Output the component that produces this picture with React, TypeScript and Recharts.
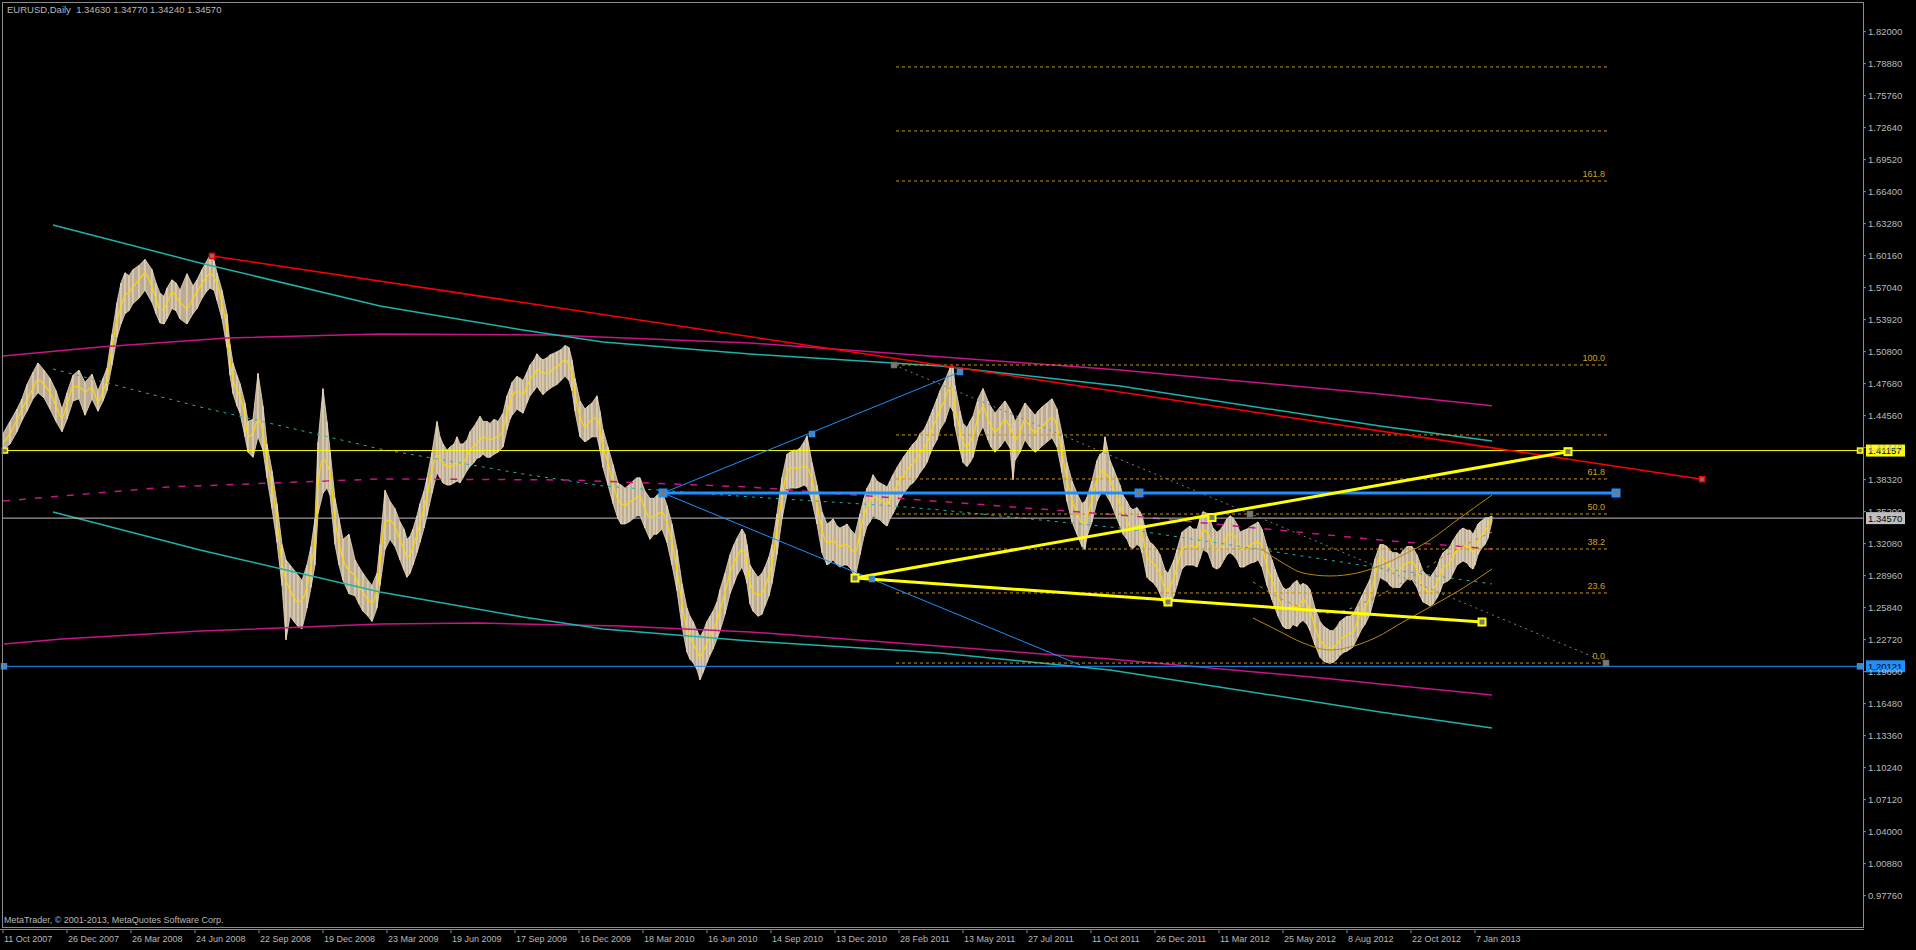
import React from 'react';
import { ComposedChart, XAxis, YAxis, Line, Bar, Area, ReferenceLine, ReferenceDot } from 'recharts';

const FONT = '"Liberation Sans", Arial, sans-serif';
const TEXT = '#b8b8b8';
const AXIS = '#8c8c8c';
const FIB = '#c8961a';
const FIB_TEXT = '#d4a017';

const Y_MIN = 0.94704;
const Y_MAX = 1.84893;

// ---- price bars: [barPos, low, high, smoothed] ----
const bars2007_08: number[][] = [
  [3,1.412,1.428,1.419],[10,1.418,1.440,1.428],[17,1.430,1.452,1.4416],[22,1.441,1.462,1.452],
  [27,1.450,1.476,1.461],[33,1.462,1.488,1.472],[38,1.468,1.497,1.4807],[44,1.463,1.490,1.476],
  [50,1.452,1.482,1.468],[56,1.440,1.470,1.455],[62,1.430,1.452,1.4434],[67,1.442,1.468,1.456],
  [73,1.460,1.485,1.4737],[79,1.462,1.490,1.474],[85,1.446,1.478,1.469],[92,1.462,1.486,1.473],
  [98,1.450,1.470,1.459],[103,1.460,1.482,1.470],[107,1.470,1.492,1.4807],[112,1.495,1.525,1.5125],
  [117,1.522,1.556,1.5387],[121,1.535,1.575,1.552],[125,1.545,1.585,1.563],[129,1.548,1.582,1.566],
  [133,1.555,1.588,1.571],[139,1.560,1.592,1.578],[145,1.568,1.598,1.5846],[152,1.556,1.588,1.571],
  [156,1.545,1.575,1.560],[160,1.536,1.565,1.549],[164,1.535,1.562,1.550],[167,1.540,1.570,1.555],
  [172,1.550,1.578,1.566],[176,1.548,1.575,1.562],[180,1.540,1.568,1.556],[187,1.535,1.584,1.5505],
  [193,1.545,1.572,1.560],[197,1.550,1.578,1.566],[202,1.560,1.588,1.575],[206,1.566,1.595,1.580],
  [210,1.570,1.602,1.5846],[214,1.568,1.597,1.580],[217,1.558,1.585,1.575],[222,1.540,1.568,1.555],
  [227,1.512,1.545,1.529],[230,1.485,1.515,1.500],[233,1.467,1.497,1.481],[237,1.455,1.485,1.470],
  [240,1.448,1.477,1.464],[245,1.425,1.458,1.4446],[248,1.410,1.440,1.4251],[253,1.405,1.442,1.429],
  [258,1.425,1.487,1.4417],[263,1.412,1.455,1.429],[267,1.385,1.418,1.4027],[272,1.355,1.392,1.3763],
  [277,1.322,1.360,1.344],[282,1.280,1.320,1.302],[286,1.227,1.305,1.285],[290,1.250,1.300,1.2757],
  [294,1.245,1.295,1.268],[298,1.240,1.290,1.264],[302,1.238,1.285,1.266],[307,1.258,1.300,1.2786],
  [311,1.278,1.318,1.300],[315,1.300,1.345,1.3244],[318,1.350,1.420,1.3763],[323,1.370,1.472,1.4027],
  [327,1.375,1.440,1.398],[330,1.368,1.412,1.390],[335,1.320,1.365,1.344],[339,1.300,1.345,1.322],
  [343,1.285,1.325,1.305],[349,1.272,1.330,1.295],[355,1.270,1.305,1.2886],[359,1.262,1.298,1.280],
  [363,1.255,1.292,1.273],[368,1.250,1.285,1.266],[372,1.245,1.280,1.263],
];
const bars2009_10: number[][] = [
  [377,1.258,1.292,1.2757],[380,1.280,1.320,1.302],[385,1.315,1.373,1.341],[390,1.325,1.362,1.344],
  [395,1.318,1.355,1.337],[400,1.305,1.342,1.3244],[404,1.295,1.335,1.315],[407,1.288,1.325,1.308],
  [410,1.292,1.328,1.310],[413,1.300,1.335,1.3176],[417,1.312,1.348,1.330],[420,1.322,1.360,1.341],
  [424,1.336,1.372,1.355],[427,1.348,1.385,1.3666],[432,1.370,1.410,1.3925],[437,1.390,1.440,1.4073],
  [440,1.385,1.425,1.404],[443,1.380,1.418,1.3995],[447,1.378,1.412,1.396],[450,1.378,1.415,1.3956],
  [454,1.380,1.418,1.398],[457,1.382,1.425,1.3995],[460,1.380,1.418,1.398],[463,1.385,1.418,1.3995],
  [467,1.392,1.422,1.406],[470,1.396,1.430,1.412],[474,1.400,1.435,1.416],[477,1.404,1.440,1.419],
  [480,1.405,1.445,1.422],[483,1.408,1.440,1.4251],[487,1.405,1.440,1.423],[490,1.405,1.438,1.422],
  [494,1.408,1.442,1.424],[498,1.410,1.440,1.4251],[503,1.415,1.448,1.432],[507,1.432,1.465,1.4485],
  [510,1.442,1.472,1.458],[512,1.446,1.478,1.464],[517,1.452,1.484,1.469],[520,1.450,1.482,1.468],
  [523,1.448,1.480,1.466],[527,1.458,1.488,1.474],[530,1.465,1.495,1.4807],[534,1.470,1.500,1.486],
  [537,1.474,1.506,1.4904],[540,1.470,1.502,1.489],[543,1.466,1.500,1.487],[547,1.470,1.502,1.487],
  [550,1.472,1.505,1.488],[553,1.474,1.506,1.491],[557,1.476,1.508,1.4932],[561,1.480,1.510,1.497],
  [565,1.484,1.514,1.500],[569,1.480,1.512,1.495],[572,1.470,1.500,1.487],[575,1.450,1.482,1.468],
  [580,1.425,1.460,1.4446],[585,1.420,1.452,1.435],[588,1.422,1.455,1.438],[592,1.425,1.458,1.4417],
  [597,1.425,1.465,1.4436],[600,1.412,1.450,1.432],[603,1.395,1.432,1.4154],[608,1.378,1.415,1.3995],
  [613,1.360,1.398,1.380],[618,1.345,1.380,1.3634],[621,1.340,1.378,1.360],[625,1.340,1.375,1.3585],
  [629,1.342,1.378,1.361],[633,1.345,1.382,1.3634],[637,1.348,1.385,1.366],[640,1.348,1.385,1.3666],
  [645,1.336,1.372,1.354],[650,1.325,1.365,1.346],[654,1.330,1.365,1.348],[657,1.330,1.368,1.349],
  [662,1.335,1.372,1.352],[667,1.322,1.358,1.341],[672,1.300,1.340,1.3215],[677,1.275,1.315,1.2952],
  [682,1.240,1.282,1.263],[687,1.215,1.258,1.2366],[690,1.208,1.250,1.230],[693,1.205,1.245,1.224],
  [697,1.198,1.236,1.216],[700,1.188,1.230,1.2103],[703,1.195,1.235,1.215],[707,1.205,1.245,1.224],
  [710,1.212,1.250,1.230],[713,1.218,1.255,1.2366],[717,1.228,1.264,1.246],[720,1.236,1.276,1.256],
  [725,1.252,1.292,1.273],[730,1.272,1.310,1.2922],[734,1.282,1.320,1.302],[737,1.290,1.326,1.308],
  [742,1.298,1.335,1.315],[745,1.290,1.330,1.312],[747,1.282,1.320,1.302],[750,1.262,1.300,1.2825],
];
const bars2010_11: number[][] = [
  [753,1.255,1.295,1.2757],[758,1.250,1.288,1.2708],[762,1.252,1.292,1.272],[765,1.260,1.298,1.2786],
  [769,1.270,1.308,1.290],[772,1.282,1.320,1.302],[777,1.310,1.350,1.334],[782,1.345,1.385,1.3666],
  [787,1.370,1.408,1.390],[790,1.375,1.410,1.394],[793,1.375,1.412,1.395],[797,1.375,1.412,1.394],
  [800,1.376,1.414,1.395],[804,1.378,1.420,1.396],[807,1.376,1.426,1.395],[812,1.362,1.400,1.3832],
  [817,1.340,1.378,1.360],[822,1.312,1.352,1.334],[827,1.300,1.340,1.322],[830,1.302,1.342,1.322],
  [833,1.305,1.345,1.324],[837,1.300,1.338,1.320],[840,1.298,1.336,1.3176],[844,1.300,1.338,1.320],
  [847,1.300,1.340,1.3195],[851,1.296,1.334,1.316],[855,1.287,1.330,1.3117],[860,1.310,1.350,1.331],
  [864,1.328,1.365,1.348],[867,1.338,1.375,1.3566],[870,1.342,1.380,1.362],[873,1.348,1.388,1.3666],
  [877,1.345,1.382,1.365],[880,1.344,1.380,1.3634],[884,1.340,1.378,1.361],[887,1.338,1.376,1.3585],
  [890,1.345,1.382,1.364],[893,1.350,1.388,1.370],[897,1.358,1.395,1.377],[900,1.364,1.400,1.3832],
  [904,1.370,1.406,1.388],[907,1.374,1.410,1.3925],[910,1.378,1.414,1.396],[913,1.380,1.418,1.3995],
  [917,1.385,1.422,1.404],[920,1.390,1.428,1.409],[924,1.395,1.432,1.414],[927,1.400,1.438,1.419],
  [930,1.408,1.445,1.427],[933,1.415,1.452,1.435],[937,1.422,1.462,1.443],[940,1.432,1.470,1.4514],
  [945,1.440,1.480,1.461],[950,1.455,1.492,1.4737],[953,1.450,1.4939,1.468],[955,1.435,1.475,1.4544],
  [960,1.412,1.450,1.432],[963,1.400,1.438,1.420],[967,1.396,1.434,1.4154],[970,1.400,1.440,1.420],
  [973,1.405,1.445,1.4251],[978,1.425,1.462,1.4446],[983,1.435,1.472,1.4544],[988,1.422,1.460,1.4417],
  [991,1.415,1.454,1.436],[995,1.410,1.448,1.430],[1000,1.415,1.454,1.435],[1005,1.422,1.460,1.4417],
  [1010,1.414,1.452,1.434],[1013,1.383,1.446,1.428],[1015,1.402,1.440,1.422],[1020,1.410,1.448,1.429],
  [1025,1.422,1.458,1.4417],[1030,1.415,1.452,1.435],[1035,1.410,1.446,1.429],[1038,1.412,1.450,1.432],
  [1042,1.416,1.454,1.435],[1047,1.420,1.458,1.440],[1052,1.424,1.462,1.4436],[1057,1.415,1.452,1.435],
  [1062,1.390,1.428,1.409],[1067,1.362,1.400,1.3832],[1072,1.342,1.382,1.3634],[1077,1.330,1.370,1.3507],
  [1082,1.318,1.360,1.341],[1085,1.315,1.362,1.342],[1087,1.328,1.366,1.347],[1092,1.342,1.382,1.3634],
  [1097,1.362,1.402,1.3832],[1100,1.368,1.408,1.389],[1103,1.372,1.410,1.3925],[1105,1.370,1.425,1.390],
  [1110,1.362,1.402,1.3832],[1113,1.355,1.395,1.376],[1117,1.345,1.385,1.3666],
];
const bars2012_13: number[][] = [
  [1120,1.338,1.378,1.358],[1123,1.330,1.368,1.3507],[1127,1.325,1.362,1.344],[1130,1.318,1.356,1.337],
  [1133,1.316,1.354,1.336],[1137,1.320,1.356,1.339],[1140,1.318,1.352,1.336],[1142,1.312,1.348,1.331],
  [1147,1.288,1.328,1.308],[1150,1.285,1.322,1.304],[1153,1.283,1.320,1.302],[1157,1.278,1.315,1.297],
  [1160,1.272,1.310,1.292],[1165,1.260,1.295,1.277],[1168,1.262,1.292,1.275],[1170,1.262,1.296,1.2786],
  [1174,1.270,1.305,1.288],[1177,1.280,1.315,1.298],[1182,1.296,1.332,1.315],[1186,1.300,1.335,1.318],
  [1190,1.300,1.338,1.3195],[1193,1.300,1.335,1.318],[1197,1.298,1.335,1.3176],[1200,1.306,1.345,1.325],
  [1203,1.315,1.352,1.334],[1208,1.312,1.350,1.331],[1213,1.298,1.336,1.3176],[1217,1.296,1.332,1.315],
  [1220,1.298,1.334,1.315],[1224,1.305,1.340,1.322],[1227,1.310,1.345,1.328],[1230,1.312,1.348,1.330],
  [1233,1.310,1.346,1.330],[1237,1.305,1.340,1.323],[1240,1.298,1.332,1.315],[1244,1.298,1.334,1.316],
  [1247,1.300,1.335,1.317],[1251,1.302,1.338,1.320],[1255,1.303,1.340,1.3215],[1258,1.305,1.342,1.322],
  [1262,1.298,1.335,1.3176],[1267,1.280,1.318,1.298],[1272,1.266,1.305,1.2854],[1275,1.258,1.296,1.277],
  [1278,1.250,1.288,1.269],[1283,1.240,1.278,1.259],[1286,1.238,1.276,1.258],[1290,1.238,1.278,1.258],
  [1293,1.242,1.282,1.260],[1297,1.240,1.285,1.259],[1300,1.244,1.280,1.262],[1303,1.246,1.282,1.2659],
  [1307,1.242,1.280,1.262],[1310,1.236,1.276,1.256],[1315,1.222,1.258,1.2396],[1320,1.210,1.245,1.227],
  [1324,1.206,1.240,1.222],[1327,1.205,1.238,1.220],[1330,1.2042,1.236,1.219],[1333,1.205,1.236,1.219],
  [1337,1.208,1.240,1.223],[1340,1.212,1.245,1.227],[1344,1.215,1.248,1.230],[1347,1.216,1.250,1.232],
  [1350,1.218,1.250,1.233],[1353,1.220,1.252,1.234],[1358,1.230,1.262,1.2467],[1362,1.238,1.270,1.254],
  [1365,1.242,1.276,1.259],[1370,1.252,1.286,1.269],[1375,1.270,1.306,1.2886],[1380,1.288,1.320,1.308],
  [1383,1.286,1.320,1.306],[1387,1.284,1.318,1.302],[1390,1.280,1.314,1.298],[1393,1.278,1.312,1.2952],
  [1397,1.278,1.312,1.295],[1400,1.278,1.310,1.2952],[1403,1.282,1.314,1.299],[1407,1.286,1.318,1.302],
  [1412,1.286,1.318,1.303],[1417,1.278,1.310,1.2952],[1420,1.270,1.302,1.286],[1423,1.264,1.294,1.2786],
  [1427,1.262,1.290,1.275],[1430,1.260,1.288,1.273],[1433,1.262,1.292,1.276],[1437,1.268,1.298,1.2825],
  [1440,1.274,1.306,1.290],[1443,1.282,1.312,1.298],[1447,1.284,1.315,1.300],[1450,1.286,1.318,1.302],
  [1453,1.292,1.324,1.308],[1457,1.300,1.330,1.315],[1460,1.302,1.334,1.318],[1463,1.304,1.336,1.3195],
  [1467,1.302,1.334,1.318],[1470,1.298,1.334,1.317],[1473,1.296,1.330,1.312],[1475,1.300,1.334,1.3176],
  [1478,1.310,1.340,1.324],[1480,1.314,1.342,1.328],[1483,1.318,1.344,1.331],[1485,1.320,1.346,1.333],
  [1488,1.326,1.346,1.338],[1492,1.3424,1.3477,1.3457],
];

// ---- indicator curves: [barPos, price] ----
const tealUpper = [[53,1.6315],[200,1.5945],[380,1.5525],[523,1.5291],[603,1.5174],[750,1.5057],[893,1.4970],[940,1.4940],[1120,1.4745],[1380,1.4355],[1492,1.4209]];
const tealMid = [[53,1.4911],[200,1.4541],[380,1.4131],[523,1.3888],[603,1.3770],[750,1.3664],[893,1.3576],[940,1.3537],[1120,1.3361],[1380,1.2971],[1492,1.2815]];
const tealLower = [[53,1.3517],[200,1.3147],[380,1.2737],[523,1.2493],[603,1.2376],[750,1.2259],[893,1.2171],[940,1.2142],[1110,1.1977],[1380,1.1567],[1492,1.1411]];
const magentaUpper = [[3,1.5038],[100,1.5126],[227,1.5214],[380,1.5253],[550,1.5243],[750,1.5165],[1120,1.4902],[1380,1.4668],[1492,1.4553]];
const magentaMid = [[3,1.3624],[167,1.3760],[380,1.3839],[570,1.3829],[750,1.3760],[1120,1.3487],[1153,1.3458],[1380,1.3244],[1492,1.3156]];
const magentaLower = [[4,1.2230],[62,1.2278],[200,1.2356],[380,1.2424],[480,1.2434],[620,1.2405],[750,1.2347],[1110,1.2084],[1332,1.1889],[1380,1.1840],[1492,1.1733]];
const arcUpper = [[1263,1.3146],[1283,1.3019],[1303,1.2922],[1330,1.2893],[1357,1.2922],[1377,1.2980],[1403,1.3097],[1430,1.3243],[1457,1.3438],[1492,1.3682]];
const arcMid = [[1253,1.2834],[1290,1.2629],[1330,1.2532],[1370,1.2659],[1410,1.2873],[1450,1.3117],[1492,1.3321]];
const arcLower = [[1253,1.2483],[1277,1.2366],[1303,1.2240],[1330,1.2171],[1357,1.2220],[1377,1.2298],[1403,1.2444],[1430,1.2590],[1460,1.2756],[1492,1.2961]];

// ---- drawn trend lines: [barPos, price] endpoints ----
const redTrend = [[212,1.6013],[1702,1.3836]];
const blueUp = [[663,1.3702],[960,1.4882]];
const blueDown = [[663,1.3702],[1080,1.2026]];
const blueThick = [[663,1.3702],[1616,1.3702]];
const yellowRise = [[855,1.2873],[1568,1.4105]];
const yellowFall = [[855,1.2873],[1482,1.2444]];
const grayDiag = [[894,1.4950],[1608,1.2044]];

// ---- fibonacci ----
const fibStart = 896;
const fibEnd = 1607;
const fibLevels = [1.2044, 1.2727, 1.3156, 1.3497, 1.3839, 1.4268, 1.4950, 1.6744, 1.7232, 1.7856];
const fibLabels = ['0.0', '23.6', '38.2', '50.0', '61.8', '', '100.0', '161.8', '', ''];

// ---- horizontal levels ----
const levelYellow = 1.41157;
const levelBid = 1.3457;
const levelBlue = 1.20121;

// ---- axes ----
const yTicks = [1.82, 1.7888, 1.7576, 1.7264, 1.6952, 1.664, 1.6328, 1.6016, 1.5704, 1.5392, 1.508, 1.4768, 1.4456, 1.4144, 1.3832, 1.352, 1.3208, 1.2896, 1.2584, 1.2272, 1.196, 1.1648, 1.1336, 1.1024, 1.0712, 1.04, 1.0088, 0.9776];
const xTickPos = [3, 67, 131, 195, 259, 323, 387, 451, 515, 579, 643, 707, 771, 835, 899, 963, 1027, 1091, 1155, 1219, 1283, 1347, 1411, 1475];
const xTickLabels = ['11 Oct 2007', '26 Dec 2007', '26 Mar 2008', '24 Jun 2008', '22 Sep 2008', '19 Dec 2008', '23 Mar 2009', '19 Jun 2009', '17 Sep 2009', '16 Dec 2009', '18 Mar 2010', '16 Jun 2010', '14 Sep 2010', '13 Dec 2010', '28 Feb 2011', '13 May 2011', '27 Jul 2011', '11 Oct 2011', '26 Dec 2011', '11 Mar 2012', '25 May 2012', '8 Aug 2012', '22 Oct 2012', '7 Jan 2013'];

// ---- anchors [barPos, price, color, size] ----
const anchors: [number, number, string, number][] = [
  [212, 1.6013, '#ff0000', 5], [1702, 1.3836, '#ff0000', 5],
  [5, 1.41157, '#ffff00', 5], [1860, 1.41157, '#ffff00', 5],
  [4, 1.20121, '#1e90ff', 5], [1860, 1.20121, '#1e90ff', 5],
  [663, 1.3702, '#1e90ff', 7], [1139, 1.3702, '#1e90ff', 7], [1616, 1.3702, '#1e90ff', 7],
  [812, 1.4277, '#1e90ff', 5], [960, 1.4882, '#1e90ff', 5], [872, 1.2863, '#1e90ff', 5],
  [855, 1.2873, '#ffff00', 7], [1568, 1.4105, '#ffff00', 7], [1212, 1.3463, '#ffff00', 7],
  [1168, 1.2639, '#ffff00', 7], [1482, 1.2444, '#ffff00', 7],
  [894, 1.4950, '#707070', 5], [1250, 1.3497, '#707070', 5], [1606, 1.2044, '#707070', 5],
];

const priceRows = [...bars2007_08, ...bars2009_10, ...bars2010_11, ...bars2012_13].map((r) => ({
  x: r[0],
  range: [r[1], r[2]],
  ma: r[3],
}));
const pts = (arr: number[][]) => arr.map(([x, p]) => ({ x, p }));

const XTick = (props: any) => {
  const { x, y, index } = props;
  return (
    <g>
      <line x1={x} x2={x} y1={y + 2} y2={y + 6} stroke={AXIS} />
      <text x={x + 1} y={y + 15} fill={TEXT} fontSize={9} fontFamily={FONT} textAnchor="start">
        {xTickLabels[index] ?? ''}
      </text>
    </g>
  );
};

const YTick = (props: any) => {
  const { x, y, payload } = props;
  return (
    <g>
      <line x1={x} x2={x + 3} y1={y} y2={y} stroke={AXIS} />
      <text x={x + 5} y={y + 3.5} fill={TEXT} fontSize={9.5} fontFamily={FONT} textAnchor="start">
        {Number(payload.value).toFixed(5)}
      </text>
    </g>
  );
};

const priceBox = (text: string, bg: string) => (props: any) => {
  const vb = props.viewBox || {};
  const x = (vb.x ?? 0) + (vb.width ?? 0) + 3;
  const y = vb.y ?? 0;
  return (
    <g>
      <rect x={x} y={y - 6} width={39} height={12} fill={bg} />
      <text x={x + 2} y={y + 3.5} fill="#000" fontSize={9.5} fontFamily={FONT}>
        {text}
      </text>
    </g>
  );
};

const fibLabel = (text: string) => (props: any) => {
  const vb = props.viewBox || {};
  if (!text) return null;
  return (
    <text x={(vb.x ?? 0) + (vb.width ?? 0) - 2} y={(vb.y ?? 0) - 4} fill={FIB_TEXT} fontSize={9} fontFamily={FONT} textAnchor="end">
      {text}
    </text>
  );
};

const squareShape = (color: string, size: number) => (props: any) => {
  const { cx, cy } = props;
  const h = size / 2;
  return <rect x={cx - h} y={cy - h} width={size} height={size} fill="#7a7a7a" stroke={color} strokeWidth={size > 5 ? 2 : 1.5} />;
};

const lineProps = { dot: false, activeDot: false, isAnimationActive: false, dataKey: 'p', type: 'linear' as const, legendType: 'none' as const };

export default function App() {
  return (
    <div style={{ position: 'relative', width: 1916, height: 950, background: '#000', overflow: 'hidden' }}>
      <style>{'body{margin:0;background:#000;}'}</style>
      <ComposedChart width={1916} height={950} data={priceRows} margin={{ top: 2, right: 0, bottom: 0, left: 2 }}>
        <XAxis
          dataKey="x"
          type="number"
          domain={[2, 1863]}
          allowDataOverflow
          ticks={xTickPos}
          interval={0}
          tick={<XTick />}
          tickLine={false}
          axisLine={false}
          tickSize={0}
          tickMargin={0}
          height={23}
        />
        <YAxis
          type="number"
          orientation="right"
          domain={[Y_MIN, Y_MAX]}
          allowDataOverflow
          ticks={yTicks}
          interval={0}
          tick={<YTick />}
          tickLine={false}
          axisLine={false}
          tickSize={0}
          tickMargin={0}
          width={53}
        />

        <Area dataKey="range" type="linear" stroke="#efdcbc" strokeWidth={0.8} fill="#efdcbc" fillOpacity={0.78} isAnimationActive={false} activeDot={false} legendType="none" />
        <Bar dataKey="range" fill="#f7ead2" barSize={2} isAnimationActive={false} legendType="none" />
        <Line dataKey="ma" type="monotone" stroke="#ffd700" strokeWidth={1.2} dot={false} activeDot={false} isAnimationActive={false} legendType="none" />

        {/* indicator curves */}
        <Line {...lineProps} data={pts(magentaUpper)} stroke="#c71585" strokeWidth={1.5} />
        <Line {...lineProps} data={pts(magentaMid)} stroke="#c71585" strokeWidth={1.5} strokeDasharray="7 9" />
        <Line {...lineProps} data={pts(magentaLower)} stroke="#c71585" strokeWidth={1.5} />
        <Line {...lineProps} data={pts(tealUpper)} stroke="#20b2aa" strokeWidth={1.5} />
        <Line {...lineProps} data={pts(tealMid)} stroke="#20b2aa" strokeWidth={1} strokeDasharray="3 5" />
        <Line {...lineProps} data={pts(tealLower)} stroke="#20b2aa" strokeWidth={1.5} />

        {/* horizontal levels */}
        <ReferenceLine y={levelYellow} stroke="#ffff00" strokeWidth={1} label={priceBox('1.41157', '#ffff00')} />
        <ReferenceLine y={levelBid} stroke="#c0c0c0" strokeWidth={1} label={priceBox('1.34570', '#c0c0c0')} />
        <ReferenceLine y={levelBlue} stroke="#1e90ff" strokeWidth={1} label={priceBox('1.20121', '#1e90ff')} />

        {/* fibonacci */}
        {fibLevels.map((lv, i) => (
          <ReferenceLine
            key={'fib' + i}
            segment={[{ x: fibStart, y: lv }, { x: fibEnd, y: lv }]}
            stroke={FIB}
            strokeDasharray="3 3"
            strokeWidth={1}
            label={fibLabel(fibLabels[i])}
          />
        ))}
        <Line {...lineProps} data={pts(grayDiag)} stroke="#808080" strokeWidth={1} strokeDasharray="2 4" />

        {/* parabolic channel */}
        <Line {...lineProps} data={pts(arcUpper)} type="monotone" stroke="#b8860b" strokeWidth={1} />
        <Line {...lineProps} data={pts(arcMid)} type="monotone" stroke="#b8860b" strokeWidth={1} strokeDasharray="3 5" />
        <Line {...lineProps} data={pts(arcLower)} type="monotone" stroke="#b8860b" strokeWidth={1} />

        {/* trend lines */}
        <Line {...lineProps} data={pts(redTrend)} stroke="#ff0000" strokeWidth={1.5} />
        <Line {...lineProps} data={pts(blueUp)} stroke="#1e90ff" strokeWidth={1} />
        <Line {...lineProps} data={pts(blueDown)} stroke="#1e90ff" strokeWidth={1} />
        <Line {...lineProps} data={pts(blueThick)} stroke="#1e90ff" strokeWidth={3} />
        <Line {...lineProps} data={pts(yellowRise)} stroke="#ffff00" strokeWidth={3} />
        <Line {...lineProps} data={pts(yellowFall)} stroke="#ffff00" strokeWidth={3} />

        {anchors.map(([x, y, c, s], i) => (
          <ReferenceDot key={'a' + i} x={x} y={y} r={3} shape={squareShape(c, s)} ifOverflow="visible" />
        ))}
      </ComposedChart>

      <div style={{ position: 'absolute', left: 2, top: 2, width: 1862, height: 926, border: `1px solid ${AXIS}`, boxSizing: 'border-box', pointerEvents: 'none' }} />
      <div style={{ position: 'absolute', left: 0, top: 929, width: 1864, height: 1, background: AXIS }} />
      <div style={{ position: 'absolute', left: 7, top: 4, fontFamily: FONT, fontSize: 9.5, lineHeight: '11px', color: TEXT, whiteSpace: 'pre' }}>
        {'EURUSD,Daily  1.34630 1.34770 1.34240 1.34570'}
      </div>
      <div style={{ position: 'absolute', left: 4, top: 915, fontFamily: FONT, fontSize: 9, lineHeight: '11px', color: TEXT, whiteSpace: 'pre' }}>
        {'MetaTrader, © 2001-2013, MetaQuotes Software Corp.'}
      </div>
    </div>
  );
}
